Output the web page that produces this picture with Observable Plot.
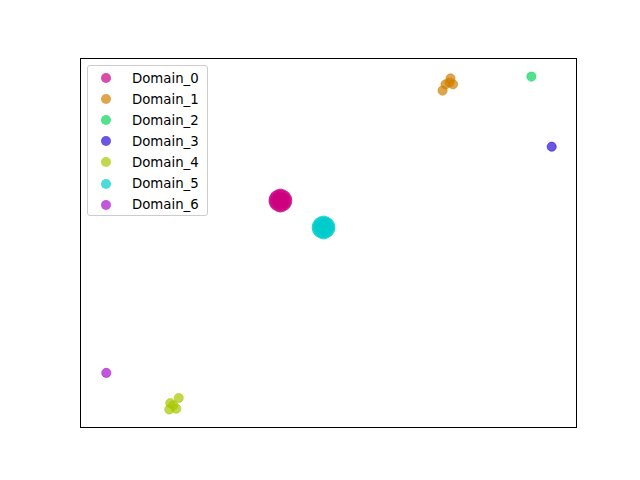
<!DOCTYPE html>
<html>
<head>
<meta charset="utf-8">
<script src="https://cdn.jsdelivr.net/npm/d3@7"></script>
<script src="https://cdn.jsdelivr.net/npm/@observablehq/plot@0.6"></script>
<style>
  html, body { margin: 0; padding: 0; background: #fff; }
  #wrap { position: relative; width: 640px; height: 480px; font-family: "DejaVu Sans", sans-serif; }
  #legend { position: absolute; left: 87px; top: 65px; width: 121px; height: 151px;
    border: 1px solid #cccccc; border-radius: 3px; background: rgba(255,255,255,0.8); box-sizing: border-box; }
  .row { position: absolute; left: 0; height: 20px; display: flex; align-items: center; font-size: 13.3px; color: #000; }
  .dot { position: absolute; left: 13px; width: 10px; height: 10px; border-radius: 50%; }
  .lab { position: absolute; left: 44px; white-space: nowrap; }
</style>
</head>
<body>
<div id="wrap"></div>
<script>
const domains = ["Domain_0","Domain_1","Domain_2","Domain_3","Domain_4","Domain_5","Domain_6"];
const colors = ["#cc0080","#d07f00","#0ad45a","#2a10d6","#a8c800","#00cccc","#a810d0"];

const d0x = [-8.3,-8.4,-8.7,-9.2,-9.7,-10.2,-10.7,-11.0,-11.1,-11.0,-10.7,-10.2,-9.7,-9.2,-8.7,-8.4,-9.7,-10.2,-9.2,-9.6,-9.9,-9.3,-10.1];
const d0y = [11.5,12.2,12.8,13.2,13.4,13.2,12.8,12.2,11.5,10.8,10.2,9.8,9.6,9.8,10.2,10.8,11.5,11.9,11.1,12.2,10.8,11.8,11.2];
const d1x = [24.6,23.6,25.1,23.0,24.4];
const d1y = [44.6,43.0,43.0,41.3,43.5];
const d2x = [40.9];
const d2y = [45.1];
const d3x = [45.0];
const d3y = [26.1];
const d4x = [-30.2,-31.9,-30.7,-32.1,-31.3];
const d4y = [-42.0,-43.4,-44.9,-45.1,-44.0];
const d5x = [0.4,0.3,0.0,-0.5,-1.0,-1.5,-2.0,-2.3,-2.4,-2.3,-2.0,-1.5,-1.0,-0.5,0.0,0.3,-1.0,-1.4,-0.6,-0.9,-1.2,-0.5,-1.3];
const d5y = [4.2,4.9,5.5,5.9,6.1,5.9,5.5,4.9,4.2,3.5,2.9,2.5,2.3,2.5,2.9,3.5,4.2,4.6,3.8,4.9,3.5,4.5,3.9];
const d6x = [-44.8];
const d6y = [-35.2];

const xs = [d0x,d1x,d2x,d3x,d4x,d5x,d6x];
const ys = [d0y,d1y,d2y,d3y,d4y,d5y,d6y];
const data = [];
domains.forEach((d, i) => xs[i].forEach((x, j) => data.push({domain: d, x, y: ys[i][j]})));

const plot = Plot.plot({
  width: 640, height: 480,
  marginLeft: 80, marginRight: 64, marginTop: 58, marginBottom: 53,
  x: {domain: [-50, 50], axis: null},
  y: {domain: [-50, 50], axis: null},
  color: {domain: domains, range: colors},
  style: {background: "#fff"},
  marks: [
    Plot.dot(data, {x: "x", y: "y", fill: "domain", stroke: "domain", r: 4.6, strokeWidth: 0.8, fillOpacity: 0.7, strokeOpacity: 0.7}),
    Plot.frame({stroke: "#000", strokeWidth: 1})
  ]
});
const wrap = document.getElementById("wrap");
wrap.appendChild(plot);

const legend = document.createElement("div");
legend.id = "legend";
domains.forEach((d, i) => {
  const row = document.createElement("div");
  row.className = "row";
  row.style.top = (2 + i * 21.1) + "px";
  row.style.width = "116px";
  const dot = document.createElement("div");
  dot.className = "dot";
  dot.style.background = colors[i];
  dot.style.opacity = 0.7;
  const lab = document.createElement("div");
  lab.className = "lab";
  lab.textContent = d;
  row.appendChild(dot); row.appendChild(lab);
  legend.appendChild(row);
});
wrap.appendChild(legend);
</script>
</body>
</html>
